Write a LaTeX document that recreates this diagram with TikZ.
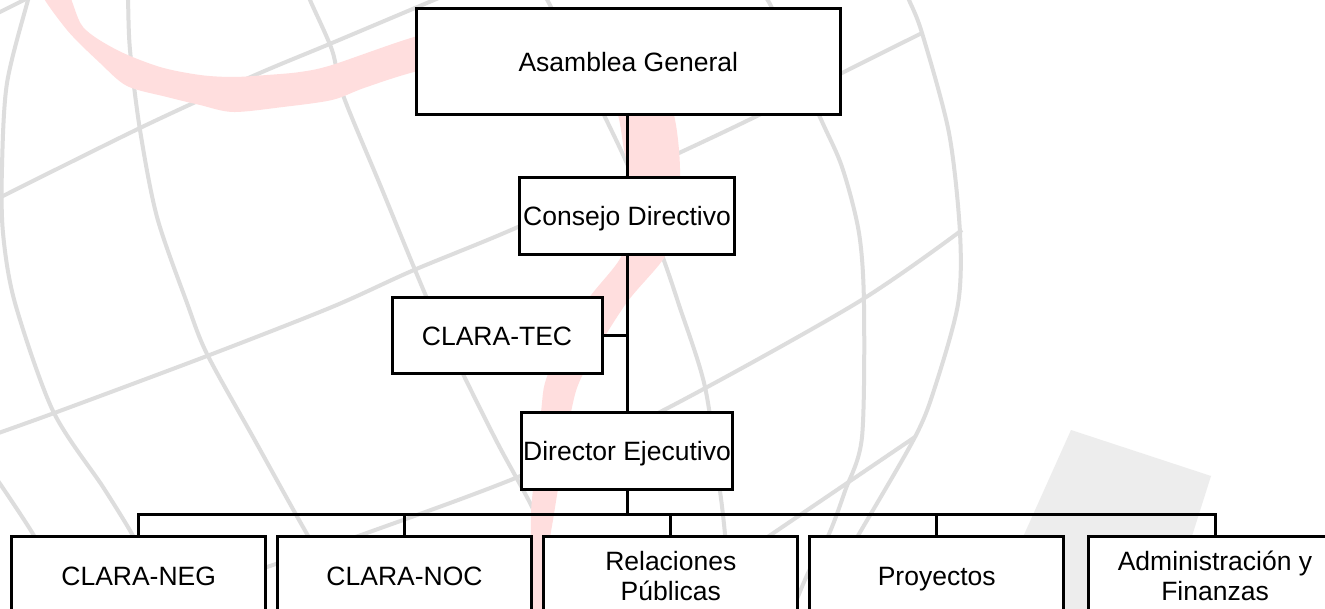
\documentclass[tikz,border=0pt]{standalone}
\usepackage{fontspec}
\setmainfont{Liberation Sans}
\definecolor{globe}{RGB}{221,221,221}
\definecolor{swoosh}{RGB}{255,222,222}
\definecolor{quadgray}{RGB}{237,237,237}
\begin{document}
\begin{tikzpicture}[x=1pt,y=-1pt,
  box/.style={draw=black, line width=3pt, fill=white, inner sep=0pt,
    text height=19pt, text depth=0pt, font=\fontsize{26.5}{30.5}\selectfont},
  twoline/.style={text depth=30.5pt},
  low/.style={box, minimum width=254pt, minimum height=80pt},
  conn/.style={draw=black, line width=3pt},
  gline/.style={draw=globe, line width=4pt}]
\useasboundingbox (0,0) rectangle (1325,609);
\clip (0,0) rectangle (1325,609);
\fill[white] (0,0) rectangle (1325,609);
% background
\fill[quadgray] (1071,430) -- (1211,476) -- (1167,615) -- (988,615) -- cycle;
\draw[gline] plot[smooth] coordinates {(-8,472) (33,534) (62,590)};
\draw[gline] plot[smooth] coordinates {(33,-15) (28,0) (7,83) (2,167) (3,233) (15,303) (53,411) (103,487) (132,534) (150,570)};
\draw[gline] plot[smooth] coordinates {(127,-15) (128,0) (130,50) (140,130) (157,217) (187,303) (207,354) (253,437) (307,534) (330,570)};
\draw[gline] plot[smooth] coordinates {(305,-15) (310,0) (332,50) (343,95) (381,187) (429,303) (464,376) (498,444) (533,509) (545,545)};
\draw[gline] plot[smooth] coordinates {(540,-10) (551,7) (604,115) (631,173) (662,255) (679,305) (705,387) (720,491) (725,534) (728,570)};
\draw[gline] plot[smooth] coordinates {(758,-10) (772,8) (819,115) (842,167) (859,233) (864,305) (862,437) (845,491) (829,534) (809,571) (795,604) (790,620)};
\draw[gline] plot[smooth] coordinates {(905,-10) (909,0) (922,33) (949,133) (960,233) (958,304) (935,387) (915,437) (859,534) (815,609)};
\draw[gline] (-10,17) -- (32,-4);
\draw[gline] plot[smooth] coordinates {(1,197) (140,128) (253,76) (332,43) (434,0) (460,-11)};
\draw[gline] plot[smooth] coordinates {(-10,436) (57,412) (207,356) (332,307) (414,270) (518,227) (679,153) (759,115) (842,73) (922,33)};
\draw[gline] plot[smooth] coordinates {(200,590) (267,567) (364,534) (518,477) (662,411) (855,304) (962,230)};
\draw[gline] (915,437) -- (772,534) -- (690,590);
\fill[swoosh] plot[smooth cycle, tension=0.5] coordinates {
 (66,-10) (83,27) (117,50) (160,67) (200,75) (233,77) (267,75) (300,72) (332,65) (414,37)
 (500,15) (600,25) (660,70) (674,115) (679,150) (680,185) (676,222) (664,258) (625,305)
 (583,374) (571,412) (558,489) (554,514) (547,560) (545,620) (532,620)
 (531,560) (531,514) (533,489) (541,412) (548,374) (584,305) (621,257) (630,215) (629,173)
 (624,150) (618,115) (605,85) (570,62) (500,52) (414,72) (364,88) (332,100) (283,107)
 (233,112) (200,105) (167,97) (127,86) (100,63) (67,30) (40,-10)};
% nodes
\node[box, minimum width=424pt, minimum height=106pt] (asam) at (628.3,62) {Asamblea General};
\node[box, minimum width=215pt, minimum height=77pt] (cons) at (627,216.5) {Consejo Directivo};
\node[box, minimum width=210pt, minimum height=76pt] (tec) at (497,336) {CLARA-TEC};
\node[box, minimum width=210.5pt, minimum height=77pt] (dir) at (627,450.5) {Director Ejecutivo};
\node[low] (neg) at (138.7,576) {CLARA-NEG};
\node[low] (noc) at (404.5,576) {CLARA-NOC};
\node[low, twoline] (rel) at (670.8,576) {\begin{tabular}[t]{@{}c@{}}Relaciones\\Públicas\end{tabular}};
\node[low] (pro) at (936.7,576) {Proyectos};
\node[low, twoline] (adm) at (1215,576) {\begin{tabular}[t]{@{}c@{}}Administración y\\Finanzas\end{tabular}};
% connectors
\coordinate (bus) at (627,514);
\draw[conn] (cons.north) -- (cons.north |- asam.south);
\draw[conn] (cons.south) -- (dir.north);
\draw[conn] (tec.east) -- (tec.east -| cons.south);
\draw[conn] (dir.south) -- (bus);
\draw[conn] (neg.north) |- (bus) -| (adm.north);
\draw[conn] (noc.north) -- (noc.north |- bus);
\draw[conn] (rel.north) -- (rel.north |- bus);
\draw[conn] (pro.north) -- (pro.north |- bus);
\end{tikzpicture}
\end{document}
